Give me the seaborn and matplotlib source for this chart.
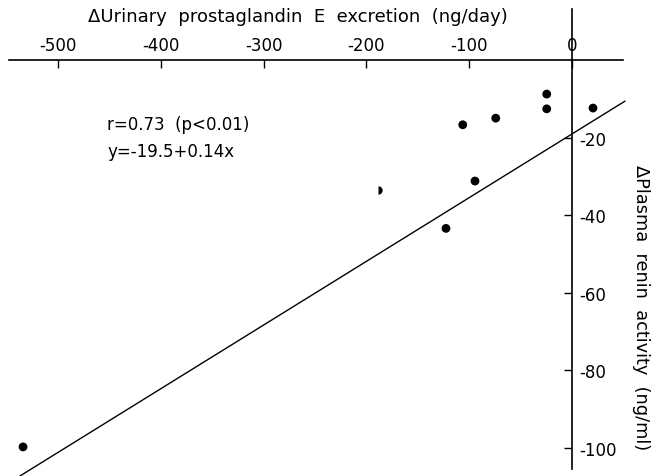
import matplotlib
matplotlib.use("Agg")
import matplotlib.pyplot as plt
import seaborn as sns
import pandas as pd

# Data
pge_change = [-534, -24.6, -24.6, 20.4, -106.3, -74.2, -94.4, -122.6]
renin_change = [-99.7, -8.8, -12.6, -12.4, -16.7, -15.0, -31.2, -43.4]
half_point_x = [-188.4]
half_point_y = [-33.5]
fit_x = [-537, 51.6]
fit_y = [-107.2, -10.6]
x_ticks = [-500, -400, -300, -200, -100, 0]
y_ticks = [-20, -40, -60, -80, -100]

sns.set_style("white")
plt.rcParams['font.family'] = ['DejaVu Sans']
plt.rcParams['text.color'] = 'black'

fig = plt.figure(figsize=(6.59, 4.77), dpi=100)
ax = fig.add_axes([0, 0, 1, 1])

df = pd.DataFrame({"x": pge_change, "y": renin_change})
sns.scatterplot(data=df, x="x", y="y", ax=ax, color="black", s=40,
                edgecolor="none", linewidth=0)
ax.plot(half_point_x, half_point_y, marker="o", fillstyle="right",
        markersize=6, markeredgewidth=0, color="black", linestyle="none")
sns.lineplot(x=fit_x, y=fit_y, ax=ax, color="black", linewidth=1.0)

ax.set_xlim(-556.4, 84.6)
ax.set_ylim(-107.2, 15.7)

for s in ["left", "bottom"]:
    ax.spines[s].set_visible(False)
ax.spines["top"].set_position(("data", 0))
ax.spines["right"].set_position(("data", 0))
ax.spines["top"].set_bounds(-548, 50)
ax.spines["right"].set_bounds(-105.4, 13.1)
for s in ["top", "right"]:
    ax.spines[s].set_linewidth(1.2)
    ax.spines[s].set_color("black")

ax.xaxis.tick_top()
ax.yaxis.tick_right()
ax.set_xticks(x_ticks)
ax.set_xticklabels([str(t) for t in x_ticks])
ax.set_yticks(y_ticks)
ax.set_yticklabels([str(t) for t in y_ticks])
ax.tick_params(axis="x", direction="in", length=6, width=1, pad=4,
               labelsize=12, colors="black")
ax.tick_params(axis="y", direction="in", length=6, width=1, pad=5,
               labelsize=12, colors="black")
ax.set_xlabel("")
ax.set_ylabel("")

fig.text(298 / 659, 1 - 17 / 477, "ΔUrinary  prostaglandin  E  excretion  (ng/day)",
         ha="center", va="center", fontsize=13, color="black")
fig.text(641 / 659, 1 - 308 / 477, "ΔPlasma  renin  activity  (ng/ml)",
         ha="center", va="center", rotation=-90, fontsize=12.8, color="black")
fig.text(107 / 659, 1 - 125 / 477, "r=0.73  (p<0.01)",
         ha="left", va="center", fontsize=12, color="black")
fig.text(107 / 659, 1 - 152 / 477, "y=-19.5+0.14x",
         ha="left", va="center", fontsize=12, color="black")

fig.savefig("out.png", dpi=100)
